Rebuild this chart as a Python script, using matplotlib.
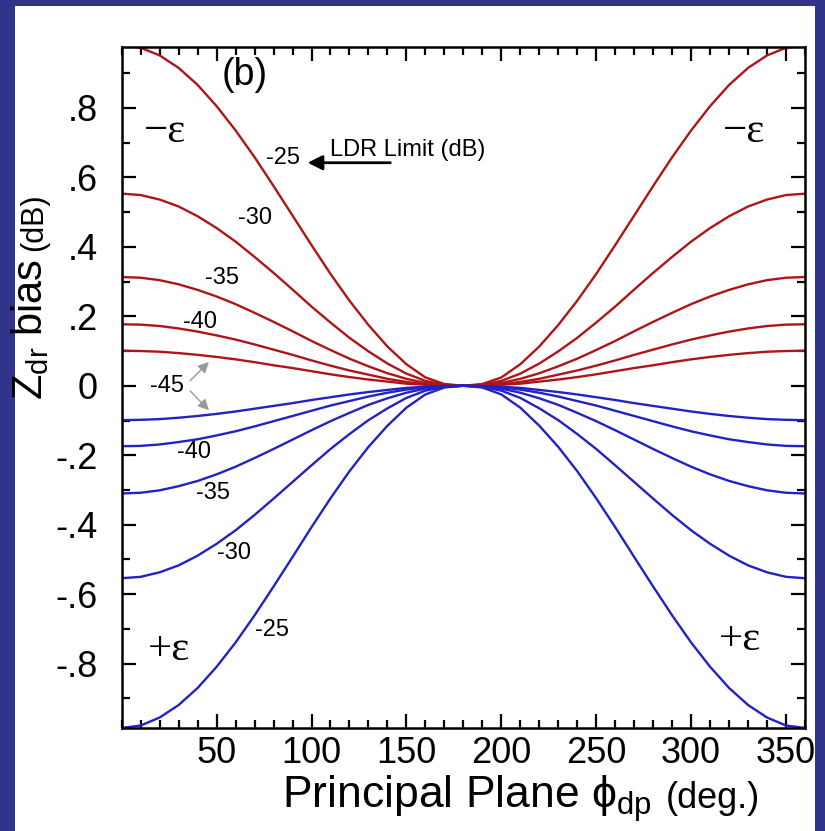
import matplotlib
matplotlib.use("Agg")
import matplotlib.pyplot as plt
from matplotlib.patches import Rectangle
from matplotlib.ticker import MultipleLocator

# phase angle samples 0..180 deg, curves are mirrored about 180
phi_half = [0, 10, 20, 30, 40, 50, 60, 70, 80, 90,
            100, 110, 120, 130, 140, 150, 160, 170, 180]

ldr_labels = ["-25", "-30", "-35", "-40", "-45"]

# -epsilon branch (positive bias)
red_curves = [
    [0.980, 0.973, 0.951, 0.915, 0.866, 0.805, 0.735, 0.658, 0.575, 0.490,
     0.405, 0.322, 0.245, 0.175, 0.113, 0.062, 0.024, 0.005, 0.0],
    [0.553, 0.549, 0.536, 0.516, 0.488, 0.454, 0.415, 0.371, 0.325, 0.277,
     0.228, 0.182, 0.138, 0.099, 0.064, 0.035, 0.014, 0.003, 0.0],
    [0.313, 0.311, 0.304, 0.292, 0.276, 0.257, 0.235, 0.210, 0.184, 0.157,
     0.129, 0.103, 0.078, 0.056, 0.036, 0.020, 0.008, 0.002, 0.0],
    [0.177, 0.176, 0.172, 0.165, 0.156, 0.145, 0.133, 0.119, 0.104, 0.089,
     0.073, 0.058, 0.044, 0.032, 0.020, 0.011, 0.004, 0.001, 0.0],
    [0.101, 0.100, 0.098, 0.094, 0.089, 0.083, 0.076, 0.068, 0.059, 0.051,
     0.042, 0.033, 0.025, 0.018, 0.012, 0.006, 0.003, 0.001, 0.0],
]

# +epsilon branch (negative bias)
blue_curves = [
    [-0.985, -0.978, -0.955, -0.919, -0.870, -0.809, -0.739, -0.661, -0.578, -0.493,
     -0.407, -0.324, -0.246, -0.176, -0.115, -0.063, -0.025, -0.005, 0.0],
    [-0.554, -0.550, -0.537, -0.517, -0.489, -0.455, -0.416, -0.372, -0.325, -0.277,
     -0.229, -0.182, -0.139, -0.099, -0.065, -0.035, -0.014, -0.003, 0.0],
    [-0.310, -0.308, -0.301, -0.289, -0.274, -0.255, -0.233, -0.208, -0.182, -0.155,
     -0.128, -0.102, -0.078, -0.055, -0.036, -0.020, -0.008, -0.002, 0.0],
    [-0.174, -0.173, -0.169, -0.162, -0.154, -0.143, -0.131, -0.117, -0.102, -0.087,
     -0.072, -0.057, -0.044, -0.031, -0.020, -0.011, -0.004, -0.001, 0.0],
    [-0.099, -0.098, -0.096, -0.092, -0.087, -0.081, -0.074, -0.066, -0.058, -0.050,
     -0.041, -0.033, -0.025, -0.018, -0.012, -0.006, -0.003, -0.001, 0.0],
]

x_ticks = [50, 100, 150, 200, 250, 300, 350]
y_ticks = [0.8, 0.6, 0.4, 0.2, 0.0, -0.2, -0.4, -0.6, -0.8]
y_tick_labels = [".8", ".6", ".4", ".2", "0", "-.2", "-.4", "-.6", "-.8"]


def full_curve(half):
    """Mirror a 0..180 deg half curve onto 0..360 deg."""
    return list(half) + list(half[-2::-1])


phi = phi_half + [360 - p for p in phi_half[-2::-1]]

plt.rcParams["font.family"] = ["Liberation Sans", "DejaVu Sans"]
plt.rcParams["mathtext.fontset"] = "custom"
plt.rcParams["mathtext.rm"] = "Liberation Sans"
plt.rcParams["mathtext.it"] = "Liberation Sans"

NAVY = "#32338a"
RED = "#ad1519"
BLUE = "#2222c4"

fig = plt.figure(figsize=(8.25, 8.31), dpi=100, facecolor=NAVY)
fig.patches.append(Rectangle((0.018, 0.0), 0.97, 0.9928, transform=fig.transFigure,
                             facecolor="white", edgecolor="none", zorder=-10))

ax = fig.add_axes([0.1475, 0.124, 0.8283, 0.8198])
ax.set_zorder(1)

for values in red_curves:
    ax.plot(phi, full_curve(values), color=RED, linewidth=1.7)
for values in blue_curves:
    ax.plot(phi, full_curve(values), color=BLUE, linewidth=1.7)

ax.set_xlim(0, 360)
ax.set_ylim(-0.985, 0.976)

ax.set_xticks(x_ticks)
ax.set_yticks(y_ticks)
ax.set_yticklabels(y_tick_labels)
ax.xaxis.set_minor_locator(MultipleLocator(10))
ax.yaxis.set_minor_locator(MultipleLocator(0.1))
ax.tick_params(which="both", direction="in", top=True, right=True,
               width=1.6, colors="black")
ax.tick_params(which="major", length=10, labelsize=26)
ax.tick_params(which="minor", length=6)
ax.tick_params(axis="y", which="major", pad=17)
ax.tick_params(axis="x", which="major", pad=6)
for spine in ax.spines.values():
    spine.set_linewidth(1.8)

# axis titles built from pieces so the unit part can be smaller
fig_w, fig_h = fig.get_size_inches() * fig.dpi
renderer = fig.canvas.get_renderer()

x_main = fig.text(282 / fig_w, 1 - 808 / fig_h, r"Principal Plane $\phi_{\mathrm{dp}}$",
                  fontsize=32, ha="left", va="baseline")
bb = x_main.get_window_extent(renderer)
fig.text((bb.x1 + 14) / fig_w, 1 - 808 / fig_h, "(deg.)",
         fontsize=26, ha="left", va="baseline")

y_main = fig.text(42 / fig_w, 1 - 400 / fig_h, r"Z$_{\mathrm{dr}}$ bias",
                  fontsize=30, rotation=90, rotation_mode="anchor",
                  ha="left", va="baseline")
bb = y_main.get_window_extent(renderer)
fig.text(42 / fig_w, (bb.y1 + 8) / fig_h, "(dB)",
         fontsize=22, rotation=90, rotation_mode="anchor",
         ha="left", va="baseline")

# panel tag and epsilon sign labels
ax.text(65, 0.895, "(b)", fontsize=27, ha="center", va="center")
serif = ["Liberation Serif", "DejaVu Serif"]
ax.text(23, 0.73, "\u2212\u03b5", fontsize=31, ha="center", va="center", family=serif)
ax.text(328, 0.73, "\u2212\u03b5", fontsize=31, ha="center", va="center", family=serif)
ax.text(25, -0.76, "+\u03b5", fontsize=31, ha="center", va="center", family=serif)
ax.text(326, -0.73, "+\u03b5", fontsize=31, ha="center", va="center", family=serif)

# LDR limit labels along the curves
red_label_pos = [(85, 0.655), (70, 0.482), (53, 0.309), (41, 0.183)]
blue_label_pos = [(79, -0.704), (59, -0.482), (48, -0.309), (38, -0.191)]
for label, (x, y) in zip(ldr_labels, red_label_pos):
    ax.text(x, y, label, fontsize=17, ha="center", va="center")
for label, (x, y) in zip(ldr_labels, blue_label_pos):
    ax.text(x, y, label, fontsize=17, ha="center", va="center")
ax.text(24, 0.0, ldr_labels[-1], fontsize=17, ha="center", va="center")

ax.text(110, 0.68, "LDR Limit (dB)", fontsize=17, ha="left", va="center")
ax.annotate("", xy=(96.5, 0.642), xytext=(143, 0.642),
            arrowprops={"arrowstyle": "-|>", "color": "black",
                        "linewidth": 2.0, "mutation_scale": 22})

# -45 pointers to the innermost pair of curves
for target in [(47, 0.074), (47, -0.076)]:
    ax.annotate("", xy=target, xytext=(35, target[1] * 0.12),
                arrowprops={"arrowstyle": "-|>", "color": "#999999",
                            "facecolor": "black", "linewidth": 1.0,
                            "mutation_scale": 16})

fig.savefig("out.png", dpi=100, facecolor=NAVY)
